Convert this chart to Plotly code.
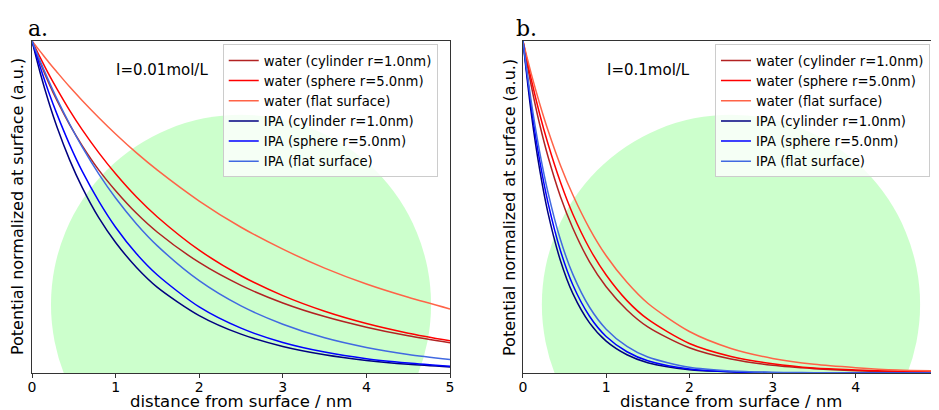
import plotly.graph_objects as go

# distance from surface (nm)
x_nm = [0, 0.1, 0.2, 0.3, 0.45, 0.6, 0.8, 1.0, 1.25, 1.5, 2.0, 2.5, 3.0, 3.5, 4.0, 4.5, 5.0]

# panel a: I = 0.01 mol/L
a_water_cyl = [1, 0.934, 0.874, 0.820, 0.748, 0.685, 0.611, 0.549, 0.481, 0.424, 0.333, 0.264, 0.211, 0.170, 0.138, 0.112, 0.091]
a_water_sph = [1, 0.949, 0.900, 0.855, 0.791, 0.733, 0.663, 0.600, 0.530, 0.470, 0.370, 0.293, 0.233, 0.186, 0.149, 0.120, 0.097]
a_water_flat = [1, 0.968, 0.936, 0.906, 0.862, 0.821, 0.769, 0.720, 0.663, 0.611, 0.518, 0.439, 0.373, 0.316, 0.268, 0.228, 0.193]
a_ipa_cyl = [1, 0.902, 0.816, 0.740, 0.642, 0.559, 0.467, 0.393, 0.318, 0.258, 0.173, 0.117, 0.080, 0.055, 0.038, 0.026, 0.018]
a_ipa_sph = [1, 0.920, 0.846, 0.779, 0.688, 0.608, 0.517, 0.439, 0.359, 0.295, 0.199, 0.135, 0.092, 0.063, 0.043, 0.030, 0.020]
a_ipa_flat = [1, 0.938, 0.880, 0.825, 0.750, 0.681, 0.599, 0.527, 0.449, 0.383, 0.278, 0.202, 0.147, 0.106, 0.077, 0.056, 0.041]

# panel b: I = 0.1 mol/L
b_water_cyl = [1, 0.865, 0.750, 0.653, 0.532, 0.436, 0.335, 0.260, 0.190, 0.139, 0.076, 0.042, 0.023, 0.013, 0.007, 0.004, 0.002]
b_water_sph = [1, 0.884, 0.781, 0.691, 0.575, 0.478, 0.375, 0.295, 0.218, 0.162, 0.089, 0.050, 0.028, 0.015, 0.009, 0.005, 0.003]
b_water_flat = [1, 0.901, 0.812, 0.732, 0.626, 0.536, 0.435, 0.353, 0.273, 0.210, 0.125, 0.074, 0.044, 0.026, 0.016, 0.009, 0.006]
b_ipa_cyl = [1, 0.782, 0.614, 0.483, 0.339, 0.239, 0.151, 0.096, 0.055, 0.031, 0.010, 0.004, 0.001, 0.000, 0.000, 0.000, 0.000]
b_ipa_sph = [1, 0.801, 0.641, 0.514, 0.369, 0.265, 0.171, 0.110, 0.064, 0.037, 0.012, 0.004, 0.001, 0.000, 0.000, 0.000, 0.000]
b_ipa_flat = [1, 0.817, 0.667, 0.545, 0.402, 0.297, 0.198, 0.132, 0.080, 0.048, 0.017, 0.006, 0.002, 0.001, 0.000, 0.000, 0.000]

series_names = ["water (cylinder r=1.0nm)", "water (sphere r=5.0nm)", "water (flat surface)",
                "IPA (cylinder r=1.0nm)", "IPA (sphere r=5.0nm)", "IPA (flat surface)"]
series_colors = ["#b22222", "#ff0000", "#ff6347", "#000080", "#0000ff", "#4169e1"]
panel_a = [a_water_cyl, a_water_sph, a_water_flat, a_ipa_cyl, a_ipa_sph, a_ipa_flat]
panel_b = [b_water_cyl, b_water_sph, b_water_flat, b_ipa_cyl, b_ipa_sph, b_ipa_flat]
ionic_labels = ["I=0.01mol/L", "I=0.1mol/L"]
panel_letters = ["a.", "b."]
x_ticks = [0, 1, 2, 3, 4, 5]

FONT = "DejaVu Sans"
fig = go.Figure()

for p, (data, xr, yr, leg) in enumerate([(panel_a, "x", "y", "legend"), (panel_b, "x2", "y2", "legend2")]):
    for name, col, ys in zip(series_names, series_colors, data):
        fig.add_trace(go.Scatter(x=x_nm, y=ys, mode="lines", name=name, xaxis=xr, yaxis=yr,
                                 legend=leg, line=dict(color=col, width=1.5, shape="spline", smoothing=0.8)))
    # background disc
    fig.add_shape(type="circle", xref=xr, yref=yr, x0=0.227, x1=4.773, y0=-0.366, y1=0.778,
                  fillcolor="#ccffcc", line=dict(width=0), layer="below")
    fig.add_annotation(xref=xr, yref=yr, x=0.985, y=0.912, text=ionic_labels[p], showarrow=False,
                       xanchor="left", yanchor="middle", font=dict(family=FONT, size=15, color="black"))

axis_common = dict(showline=True, mirror=True, linecolor="#333", linewidth=1, zeroline=False,
                   showgrid=False)
xaxis_common = dict(range=[0, 5], tickvals=x_ticks, ticks="outside", ticklen=4, tickcolor="#333",
                    ticklabelstandoff=-3, ticklabeloverflow="allow",
                    tickfont=dict(family=FONT, size=14, color="black"),
                    automargin=False, **axis_common)
legend_common = dict(y=0.990, xanchor="left", yanchor="top", bgcolor="rgba(255,255,255,0.8)",
                     bordercolor="#cccccc", borderwidth=1, font=dict(family=FONT, size=13.2, color="black"))
fig.update_layout(
    width=931, height=402, template="none",
    margin=dict(l=24, r=0, t=33, b=37),
    plot_bgcolor="white", paper_bgcolor="white",
    xaxis=dict(domain=[0, 0.4609], **xaxis_common),
    xaxis2=dict(domain=[0.5413, 1.0], anchor="y2", **xaxis_common),
    yaxis=dict(domain=[0, 1], range=[0, 1], showticklabels=False, ticks="", automargin=False, **axis_common),
    yaxis2=dict(domain=[0, 1], range=[0, 1], showticklabels=False, ticks="", automargin=False, anchor="x2", **axis_common),
    legend=dict(x=0.2103, **legend_common),
    legend2=dict(x=0.753, **legend_common),
)

# axis titles and panel letters
for xc in [0.2305, 0.7707]:
    fig.add_annotation(xref="paper", yref="paper", x=xc, y=-0.0873, text="distance from surface / nm", showarrow=False,
                       xanchor="center", yanchor="middle", font=dict(family=FONT, size=16.5, color="black"))
for xc in [-0.0165, 0.5259]:
    fig.add_annotation(xref="paper", yref="paper", x=xc, y=0.5, text="Potential normalized at surface (a.u.)",
                       textangle=-90, showarrow=False, xanchor="center", yanchor="middle",
                       font=dict(family=FONT, size=16, color="black"))
for xc, letter in [(-0.0066, panel_letters[0]), (0.5314, panel_letters[1])]:
    fig.add_annotation(xref="paper", yref="paper", x=xc, y=0.9945, text=letter, showarrow=False,
                       xanchor="left", yanchor="bottom", font=dict(family="DejaVu Serif", size=22, color="black"))

fig.write_html("out.html")
